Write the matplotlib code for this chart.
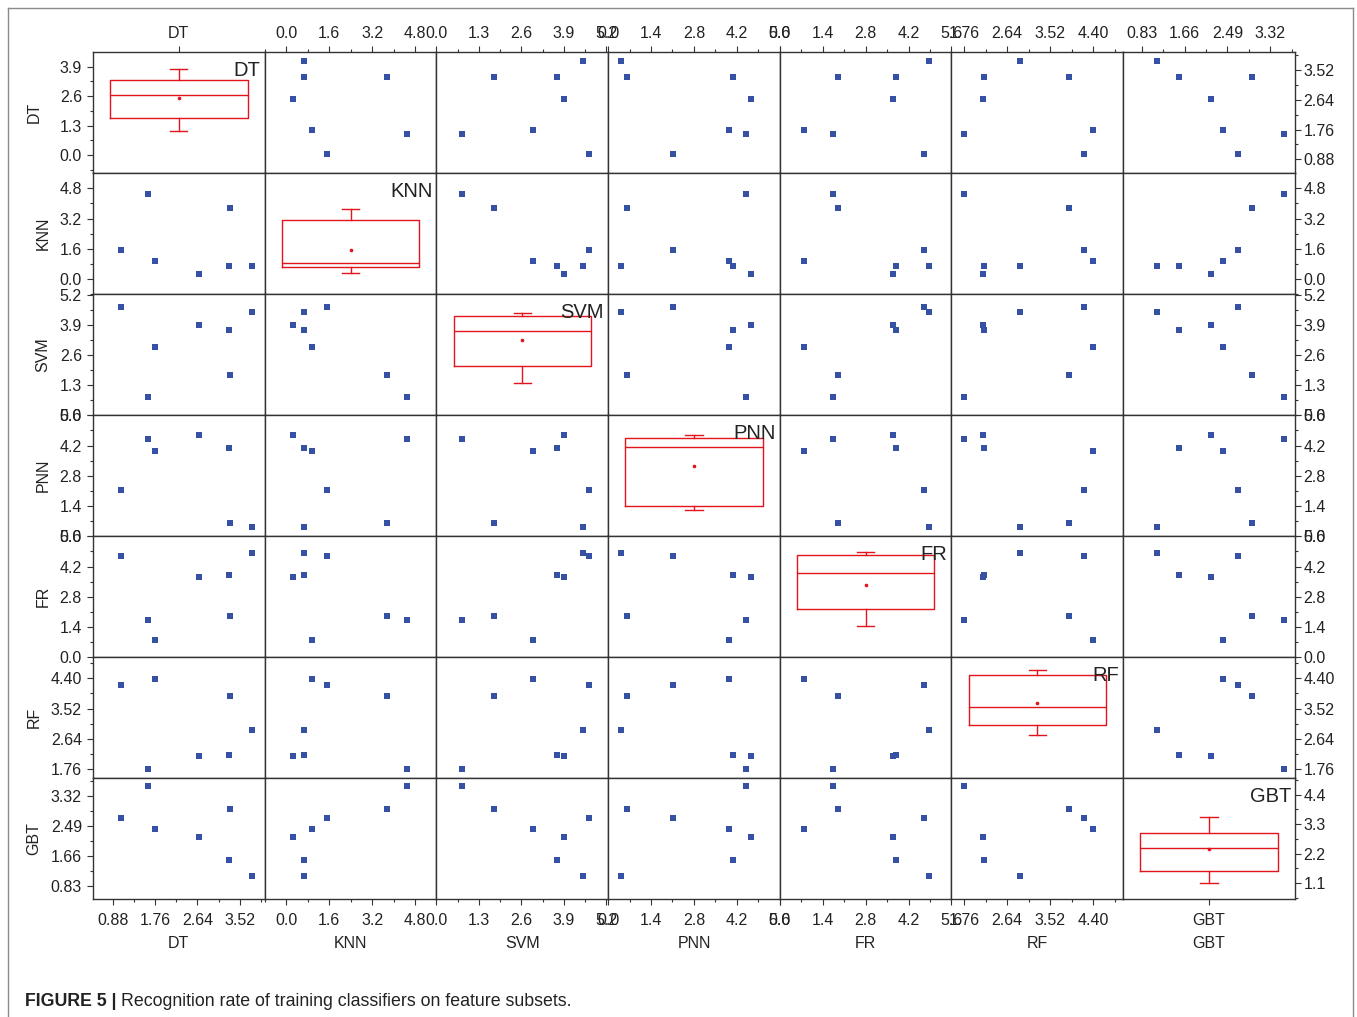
import numpy as np
import matplotlib.pyplot as plt
from matplotlib.ticker import AutoMinorLocator
from matplotlib.text import Annotation
from matplotlib.lines import Line2D

plt.rcParams['font.family'] = ['Liberation Sans', 'DejaVu Sans']

names = ['DT', 'KNN', 'SVM', 'PNN', 'FR', 'RF', 'GBT']

# recognition rates, one value per feature subset
dt = [3.78, 3.30, 2.67, 1.75, 1.05, 3.32, 1.62]
knn = [0.68, 0.68, 0.27, 0.95, 1.52, 3.77, 4.48]
svm = [4.48, 3.69, 3.90, 2.95, 4.68, 1.77, 0.79]
pnn = [0.42, 4.07, 4.67, 3.95, 2.12, 0.62, 4.49]
fr = [4.85, 3.79, 3.70, 0.78, 4.69, 1.90, 1.72]
rf = [2.91, 2.17, 2.15, 4.39, 4.21, 3.90, 1.76]
gbt = [1.12, 1.56, 2.18, 2.40, 2.70, 2.96, 3.58]
data = [dt, knn, svm, pnn, fr, rf, gbt]

# tick labels printed on the outer axes
dt_ticks = ['0.88', '1.76', '2.64', '3.52']
knn_ticks = ['0.0', '1.6', '3.2', '4.8']
svm_ticks = ['0.0', '1.3', '2.6', '3.9', '5.2']
pnn_ticks = ['0.0', '1.4', '2.8', '4.2', '5.6']
fr_ticks = ['0.0', '1.4', '2.8', '4.2', '5.6']
rf_ticks = ['1.76', '2.64', '3.52', '4.40']
gbt_ticks = ['0.83', '1.66', '2.49', '3.32']
tick_sets = [dt_ticks, knn_ticks, svm_ticks, pnn_ticks, fr_ticks, rf_ticks, gbt_ticks]
dt_box_ticks = ['0.0', '1.3', '2.6', '3.9']
gbt_box_ticks = ['1.1', '2.2', '3.3', '4.4']

caption_bold = 'FIGURE 5 |'
caption_text = 'Recognition rate of training classifiers on feature subsets.'

# layout (pixels) and axis ranges
W, H = 1357, 1017
X0, Y0 = 93.0, 52.3
CW, RH = 171.7, 121.0
scatter_lim = [(0.47, 4.04), (-0.80, 5.59), (0.0, 5.25), (0.0, 5.6),
               (0.0, 5.6), (1.50, 5.01), (0.47, 3.80)]
box_lim = [(-0.80, 4.53), (-1.16, 6.87), (-0.96, 5.69), (-1.07, 5.76),
           (-0.93, 5.71), (0.0, 4.92), (0.50, 5.01)]

BLUE = '#3651a3'
RED = '#e3141c'
TXT = '#222222'
FS = 11.5


def box_stats(vals):
    v = np.asarray(vals)
    q1, med, q3 = np.percentile(v, [25, 50, 75], method='inverted_cdf')
    return dict(med=med, q1=q1, q3=q3, whislo=v.min(), whishi=v.max(),
                mean=v.mean(), fliers=[])


def set_ticks(axis, labels):
    axis.set_ticks([float(s) for s in labels], labels=labels)
    axis.set_minor_locator(AutoMinorLocator(2))


fig = plt.figure(figsize=(W / 100, H / 100), dpi=100)

for i in range(7):
    for j in range(7):
        ax = fig.add_axes([(X0 + j * CW) / W, 1 - (Y0 + (i + 1) * RH) / H, CW / W, RH / H])
        for sp in ax.spines.values():
            sp.set_color('#333333')
            sp.set_linewidth(1.0)
        ax.tick_params(which='both', bottom=False, top=False, left=False, right=False,
                       labelbottom=False, labeltop=False, labelleft=False, labelright=False,
                       colors='#333333', labelcolor=TXT, labelsize=FS, width=0.8)
        ax.tick_params(which='major', length=4.5)
        ax.tick_params(which='minor', length=2.5)

        if i == j:
            ax.bxp([box_stats(data[i])], positions=[0], widths=0.8, capwidths=0.1,
                   showmeans=True, showfliers=False,
                   boxprops=dict(color=RED, lw=1.0),
                   medianprops=dict(color=RED, lw=1.0),
                   whiskerprops=dict(color=RED, lw=1.0),
                   capprops=dict(color=RED, lw=1.0),
                   meanprops=dict(marker='o', markersize=1.6, markerfacecolor=RED,
                                  markeredgecolor=RED))
            ax.set_xlim(-0.5, 0.5)
            ax.set_ylim(*box_lim[i])
            ax.text(1 - 4 / CW, 1 - 18.4 / RH, names[i], transform=ax.transAxes,
                    ha='right', va='center', fontsize=14.5, color=TXT)
        else:
            ax.scatter(data[j], data[i], marker='s', s=20, color=BLUE, linewidths=0)
            ax.set_xlim(*scatter_lim[j])
            ax.set_ylim(*scatter_lim[i])

        # outer axes
        if i == 0:
            if j == 0:
                ax.set_xticks([0], labels=['DT'])
            else:
                set_ticks(ax.xaxis, tick_sets[j])
            ax.tick_params(axis='x', which='both', top=True, labeltop=True, pad=3.5)
        if i == 6:
            if j == 6:
                ax.set_xticks([0], labels=['GBT'])
            else:
                set_ticks(ax.xaxis, tick_sets[j])
            ax.tick_params(axis='x', which='both', bottom=True, labelbottom=True, pad=5.5)
            ax.set_xlabel(names[j], fontsize=FS, color=TXT)
            ax.xaxis.set_label_coords(0.5, (899.3 - 944) / RH)
            ax.xaxis.label.set_va('center')
        if j == 0:
            if i == 0:
                set_ticks(ax.yaxis, dt_box_ticks)
            else:
                set_ticks(ax.yaxis, tick_sets[i])
            ax.tick_params(axis='y', which='both', left=True, labelleft=True, pad=3.5)
            wide = len(tick_sets[i][0]) > 3
            ax.set_ylabel(names[i], fontsize=FS, color=TXT)
            ax.yaxis.set_label_coords(((34 if wide else 43) - X0) / CW, 0.5)
            ax.yaxis.label.set_va('center')
        if j == 6:
            if i == 6:
                set_ticks(ax.yaxis, gbt_box_ticks)
            else:
                set_ticks(ax.yaxis, tick_sets[i])
            ax.tick_params(axis='y', which='both', right=True, labelright=True, pad=1.7)

# frame around the figure panel
for xs, ys in [((8, 8), (H + 5, 8)), ((8, 1352.5), (8, 8)), ((1352.5, 1352.5), (8, H + 5))]:
    fig.add_artist(Line2D([x / W for x in xs], [1 - y / H for y in ys],
                          color='#8a8a8a', lw=1.0))

cap = fig.text(25 / W, 1 - 1001 / H, caption_bold, fontsize=12.8, fontweight='bold',
               color=TXT, ha='left', va='center')
fig.add_artist(Annotation(caption_text, xy=(1, 0.5), xycoords=cap, xytext=(3.5, 0),
                          textcoords='offset points', fontsize=12.8, color=TXT,
                          ha='left', va='center'))

fig.savefig('out.png', dpi=100)
